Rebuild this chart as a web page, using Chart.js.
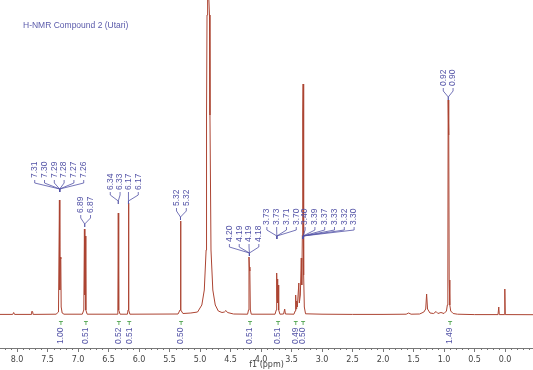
<!DOCTYPE html>
<html>
<head>
<meta charset="utf-8">
<script src="https://cdn.jsdelivr.net/npm/chart.js@4.4.1/dist/chart.umd.min.js"></script>
<style>
  html, body { margin: 0; padding: 0; background: #fff; }
  #wrap { width: 533px; height: 370px; position: relative; }
</style>
</head>
<body>
<div id="wrap"><canvas id="nmr"></canvas></div>
<script>
// ---- data ----
var chartTitle = "H-NMR Compound 2 (Utari)";

// chemical shift (ppm), descending
var ppm = [
  8.28, 8.07, 8.055, 8.04, 7.77, 7.76, 7.745, 7.735, 7.36, 7.32,
  7.305, 7.298, 7.29, 7.282, 7.276, 7.26, 7.23,
  6.93, 6.905, 6.895, 6.888, 6.88, 6.872, 6.85,
  6.36, 6.347, 6.34, 6.333, 6.31,
  6.19, 6.18, 6.173, 6.166, 6.15,
  5.36, 5.328, 5.32, 5.312, 5.28, 5.15, 5.04,
  4.97, 4.93, 4.90, 4.893, 4.885, 4.875, 4.865, 4.855, 4.845, 4.837, 4.82, 4.79, 4.75, 4.70,
  4.64, 4.60, 4.575, 4.55, 4.45,
  4.22, 4.205, 4.197, 4.19, 4.183, 4.175, 4.16,
  3.77, 3.75, 3.743, 3.736, 3.73, 3.724, 3.718, 3.71, 3.69,
  3.63, 3.612, 3.60,
  3.46, 3.44, 3.432, 3.424, 3.415, 3.405, 3.38, 3.372, 3.355, 3.34, 3.332,
  3.322, 3.316, 3.31, 3.304, 3.298, 3.29, 3.27,
  3.0, 2.5, 2.0, 1.62, 1.58, 1.54,
  1.40, 1.33, 1.30, 1.285, 1.27, 1.23, 1.17, 1.13, 1.10, 1.05, 1.00,
  0.96, 0.945, 0.937, 0.932, 0.926, 0.92, 0.915, 0.905, 0.89, 0.85, 0.78,
  0.5, 0.115, 0.102, 0.094, 0.01, 0.003, -0.004, -0.46
];
// intensity (arbitrary units)
var intensity = [
  0.6, 0.6, 2.5, 0.6, 0.6, 3.5, 3.5, 0.6, 0.8, 3,
  115, 25, 58, 56, 8, 2, 0.8,
  0.8, 5, 86, 20, 79, 5, 0.8,
  0.8, 5, 102, 5, 0.8,
  0.8, 5, 112, 5, 0.8,
  1, 5, 94, 5, 1.5, 2, 3,
  10, 25, 65, 200, 300, 316, 320, 316, 300, 200, 65, 25, 10, 4,
  2.5, 3, 4.5, 2.5, 1,
  0.8, 5, 58, 48, 44, 5, 0.8,
  0.8, 5, 42, 18, 36, 12, 30, 5, 0.8,
  1, 6, 1,
  0.8, 4, 20, 6, 14, 8, 32, 12, 20, 57, 30,
  80, 200, 231, 180, 40, 8, 1.2,
  0.8, 0.6, 0.6, 0.8, 2, 0.8,
  1, 3, 6, 21, 6, 2, 1.5, 3.5, 1.5, 2.5, 1.5,
  4, 10, 35, 215, 180, 200, 35, 10, 4, 1.5, 0.8,
  0.4, 0.4, 8, 0.4, 0.4, 26, 0.4, 0.3
];

var tickValues = [8.0, 7.5, 7.0, 6.5, 6.0, 5.5, 5.0, 4.5, 4.0, 3.5, 3.0, 2.5, 2.0, 1.5, 1.0, 0.5, 0.0];

// peak picking labels and the shift each group points to
var peakLabels = [
  ["7.31", "7.30", "7.29", "7.28", "7.27", "7.26"],
  ["6.89", "6.87"],
  ["6.34", "6.33"],
  ["6.17", "6.17"],
  ["5.32", "5.32"],
  ["4.20", "4.19", "4.19", "4.18"],
  ["3.73", "3.73", "3.71", "3.70"],
  ["3.40", "3.39", "3.37", "3.33", "3.32", "3.30"],
  ["0.92", "0.90"]
];
var peakAt = [7.30, 6.89, 6.34, 6.173, 5.32, 4.19, 3.74, 3.31, 0.93];

// integrals
var integralAt = [7.28, 6.87, 6.33, 6.16, 5.31, 4.18, 3.72, 3.43, 3.31, 0.90];
var integralVals = ["1.00", "0.51", "0.52", "0.51", "0.50", "0.51", "0.51", "0.49", "0.50", "1.49"];

// ---- layout of the label groups (pixel offsets, not data) ----
var labelLayout = [
  { dx: -25, y: 178 }, { dx: -4, y: 213 }, { dx: -8, y: 190 }, { dx: 0, y: 190 },
  { dx: -4, y: 206 }, { dx: -20, y: 242 }, { dx: -10, y: 225 }, { dx: 2, y: 225 },
  { dx: -5, y: 86 }
];
var labelGap = 9.8;

var lineColor = "rgb(172,68,50)";
var labelColor = "#5252a6";
var font = "DejaVu Sans";
var labelFont = "Liberation Sans";

var points = ppm.map(function (p, i) { return { x: p, y: intensity[i] }; });

var annotate = {
  id: "annotate",
  afterDraw: function (chart) {
    var ctx = chart.ctx;
    var xs = chart.scales.x;
    ctx.save();

    // title
    ctx.fillStyle = "#5a5aaa";
    ctx.font = "8.5px '" + labelFont + "'";
    ctx.textBaseline = "middle";
    ctx.fillText(chartTitle, 23, 26);

    // minor ticks
    ctx.strokeStyle = "#777";
    ctx.lineWidth = 1;
    var bottom = chart.chartArea.bottom;
    for (var i = -4; i <= 82; i++) {
      if (i % 5 === 0) continue;
      var px = Math.round(xs.getPixelForValue(i / 10)) + 0.5;
      ctx.beginPath();
      ctx.moveTo(px, bottom);
      ctx.lineTo(px, bottom + 2);
      ctx.stroke();
    }

    // peak labels
    ctx.strokeStyle = labelColor;
    ctx.fillStyle = labelColor;
    ctx.lineWidth = 0.8;
    ctx.font = "8.5px '" + labelFont + "'";
    peakLabels.forEach(function (group, g) {
      var xc = xs.getPixelForValue(peakAt[g]);
      var lay = labelLayout[g];
      group.forEach(function (txt, k) {
        var xi = xc + lay.dx + k * labelGap;
        ctx.save();
        ctx.translate(xi, lay.y);
        ctx.rotate(-Math.PI / 2);
        ctx.textAlign = "left";
        ctx.textBaseline = "middle";
        ctx.fillText(txt, 0, 0);
        ctx.restore();
        ctx.beginPath();
        ctx.moveTo(xi, lay.y + 2);
        ctx.lineTo(xi, lay.y + 5);
        ctx.lineTo(xc, lay.y + 11);
        ctx.lineTo(xc, lay.y + 14);
        ctx.stroke();
      });
    });

    // integrals
    integralAt.forEach(function (p, k) {
      var x = xs.getPixelForValue(p);
      ctx.strokeStyle = "#3c9a3c";
      ctx.beginPath();
      ctx.moveTo(x - 2, 321.5);
      ctx.lineTo(x + 2, 321.5);
      ctx.moveTo(x, 321.5);
      ctx.lineTo(x, 325);
      ctx.stroke();
      ctx.save();
      ctx.fillStyle = labelColor;
      ctx.translate(x, 344);
      ctx.rotate(-Math.PI / 2);
      ctx.textAlign = "left";
      ctx.textBaseline = "middle";
      ctx.fillText(integralVals[k], 0, 0);
      ctx.restore();
    });

    ctx.restore();
  }
};

new Chart(document.getElementById("nmr"), {
  type: "line",
  data: {
    datasets: [{
      data: points,
      borderColor: lineColor,
      borderWidth: 1,
      pointRadius: 0,
      tension: 0,
      fill: false
    }]
  },
  options: {
    responsive: true,
    maintainAspectRatio: false,
    animation: false,
    layout: { padding: 0 },
    plugins: { legend: { display: false }, tooltip: { enabled: false } },
    scales: {
      x: {
        type: "linear",
        reverse: true,
        min: -0.459,
        max: 8.279,
        afterFit: function (s) { s.height = 22; },
        afterBuildTicks: function (s) {
          s.ticks = tickValues.map(function (v) { return { value: v }; });
        },
        ticks: {
          autoSkip: false,
          maxRotation: 0,
          padding: 3,
          color: "#444",
          font: { family: font, size: 8 },
          callback: function (v) { return Number(v).toFixed(1); }
        },
        grid: { drawOnChartArea: false, tickLength: 4, color: "#777" },
        border: { color: "#777" },
        title: {
          display: true,
          text: "f1 (ppm)",
          color: "#444",
          font: { family: font, size: 8 },
          padding: { top: 0, bottom: 0 }
        }
      },
      y: { display: false, min: -33, max: 315 }
    }
  },
  plugins: [annotate]
});
</script>
</body>
</html>
